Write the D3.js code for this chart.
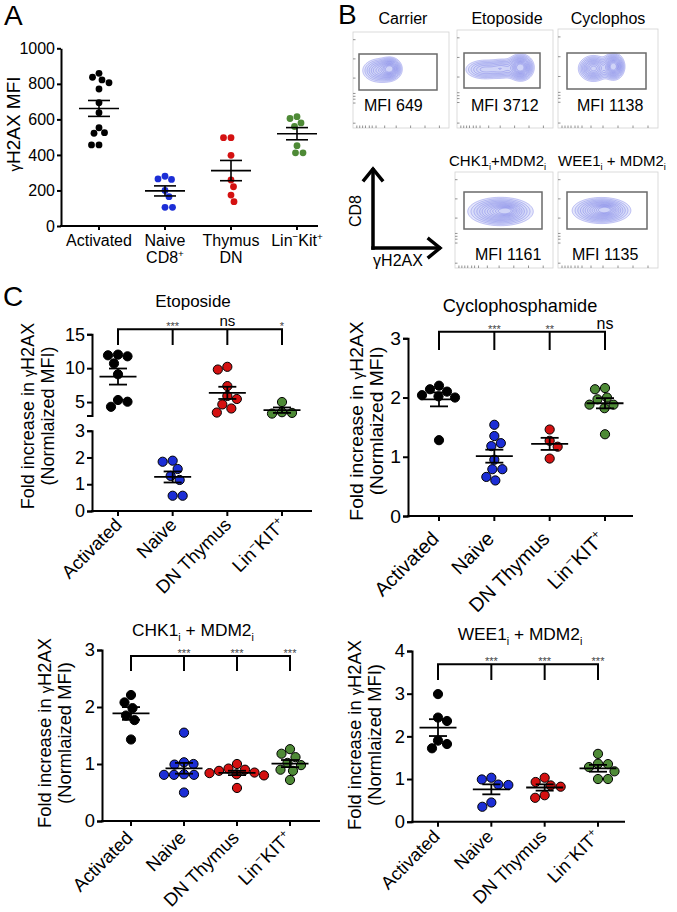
<!DOCTYPE html>
<html><head><meta charset="utf-8">
<script src="https://cdn.jsdelivr.net/npm/d3@7"></script>
<style>
html,body{margin:0;padding:0;background:#fff;}
svg text{font-family:"Liberation Sans",Arial,Helvetica,sans-serif;fill:#000;}
</style></head>
<body>
<svg id="fig" width="677" height="912"></svg>
<script>
// ================= DATA =================
// Panel A
const groupsA = ["Activated", "Naive CD8+", "Thymus DN", "Lin-Kit+"];
const labelsA1 = ["Activated", "Naive", "Thymus", "Lin^−^Kit^+^"];
const labelsA2 = ["", "CD8^+^", "DN", ""];
const ticksA = [0, 200, 400, 600, 800, 1000];
const activatedA = [859, 837, 822, 806, 771, 694, 638, 553, 525, 522, 456, 456];
const naiveA = [280, 265, 262, 200, 165, 105, 105];
const thymusA = [497, 497, 398, 259, 221, 174, 137];
const linKitA = [615, 605, 580, 560, 452, 412, 412];

// Panel B
const flowTitles = ["Carrier", "Etoposide", "Cyclophos", "CHK1_i_+MDM2_i_", "WEE1_i_ + MDM2_i_"];
const flowMFI = [649, 3712, 1138, 1161, 1135];

// Panel C
const groupsC = ["Activated", "Naive", "DN Thymus", "Lin-KIT+"];
const labelsC = ["Activated", "Naive", "DN Thymus", "Lin^−^KIT^+^"];
const titlesC = ["Etoposide", "Cyclophosphamide", "CHK1_i_ + MDM2_i_", "WEE1_i_ + MDM2_i_"];

const etoActivated = [12.0, 11.9, 11.75, 10.7, 9.1, 5.3, 5.05, 4.3];
const etoNaive = [1.88, 1.84, 1.57, 1.31, 1.16, 0.57, 0.57];
const etoDN = [10.2, 9.8, 7.35, 5.9, 5.45, 4.65, 4.05, 3.45];
const etoLin = [5.0, 3.5, 3.4, 3.3];
const etoSig = ["***", "ns", "*"];
const etoTicksUpper = [5, 10, 15];
const etoTicksLower = [0, 1, 2, 3];

const cycActivated = [2.20, 2.14, 2.10, 2.04, 2.02, 2.0, 1.28];
const cycNaive = [1.54, 1.35, 1.23, 1.18, 0.95, 0.79, 0.79, 0.66, 0.60];
const cycDN = [1.46, 1.27, 1.17, 0.97];
const cycLin = [2.16, 2.14, 2.0, 1.97, 1.88, 1.88, 1.82, 1.38];
const cycSig = ["***", "**", "ns"];
const cycTicks = [0, 1, 2, 3];

const chkActivated = [2.21, 2.08, 1.98, 1.85, 1.77, 1.43];
const chkNaive = [1.55, 1.03, 1.0, 0.99, 0.82, 0.81, 0.81, 0.81, 0.5];
const chkDN = [1.0, 0.92, 0.9, 0.88, 0.85, 0.84, 0.82, 0.8, 0.58];
const chkLin = [1.26, 1.18, 1.12, 1.02, 0.98, 0.9, 0.88, 0.72];
const chkSig = ["***", "***", "***"];
const chkTicks = [0, 1, 2, 3];

const weeActivated = [2.99, 2.44, 2.36, 1.90, 1.82, 1.72];
const weeNaive = [1.03, 0.99, 0.87, 0.86, 0.45, 0.35];
const weeDN = [1.03, 0.93, 0.85, 0.82, 0.62, 0.56];
const weeLin = [1.59, 1.36, 1.35, 1.28, 1.18, 1.0, 1.0];
const weeSig = ["***", "***", "***"];
const weeTicks = [0, 1, 2, 3, 4];

// ================= STYLE / LAYOUT =================
const colors = ["#000000", "#1c2ed6", "#d41111", "#4e8a36"];
const svg = d3.select("#fig");
const fmt = d3.format("~g");

function rich(sel, str, fs) {
  const parts = str.split(/(\^[^\^]*\^|_[^_]*_)/).filter(s => s !== "");
  let shift = 0;
  parts.forEach(p => {
    if (p[0] === "^") {
      const s = -fs * 0.38;
      sel.append("tspan").text(p.slice(1, -1)).attr("font-size", fs * 0.62).attr("dy", s - shift);
      shift = s;
    } else if (p[0] === "_") {
      const s = fs * 0.28;
      sel.append("tspan").text(p.slice(1, -1)).attr("font-size", fs * 0.62).attr("dy", s - shift);
      shift = s;
    } else {
      sel.append("tspan").text(p).attr("dy", -shift);
      shift = 0;
    }
  });
  return sel;
}

function swarm(vals, yfn, r) {
  const pts = vals.map(v => ({ v, y: yfn(v) })).sort((a, b) => a.y - b.y);
  const placed = [];
  pts.forEach((p, i) => {
    const dir = i % 2 === 0 ? 1 : -1;
    for (let k = 0; k < 600; k++) {
      const dx = k === 0 ? 0 : Math.ceil(k / 2) * 0.5 * ((k % 2) ? dir : -dir);
      if (placed.every(q => (q.dx - dx) ** 2 + (q.y - p.y) ** 2 >= (2 * r + 0.4) ** 2)) { p.dx = dx; break; }
    }
    placed.push(p);
  });
  return placed;
}

function drawGroup(g, vals, cx, yfn, color, o) {
  const pts = swarm(vals, yfn, o.r);
  g.append("g").selectAll("circle").data(pts).join("circle")
    .attr("cx", d => cx + d.dx).attr("cy", d => d.y).attr("r", o.r)
    .attr("fill", color)
    .attr("stroke", o.stroke ? "#000" : "none").attr("stroke-width", o.stroke ? 1 : 0);
  const m = d3.mean(vals), s = d3.deviation(vals) / Math.sqrt(vals.length);
  const lg = g.append("g").attr("stroke", "#000").attr("stroke-width", o.lw);
  lg.append("line").attr("x1", cx - o.mw / 2).attr("x2", cx + o.mw / 2).attr("y1", yfn(m)).attr("y2", yfn(m));
  lg.append("line").attr("x1", cx - o.sw / 2).attr("x2", cx + o.sw / 2).attr("y1", yfn(m + s)).attr("y2", yfn(m + s));
  lg.append("line").attr("x1", cx - o.sw / 2).attr("x2", cx + o.sw / 2).attr("y1", yfn(m - s)).attr("y2", yfn(m - s));
  lg.append("line").attr("x1", cx).attr("x2", cx).attr("y1", yfn(m + s)).attr("y2", yfn(m - s));
}

function styleAxis(g, fs) {
  g.attr("font-size", fs).attr("font-family", "'Liberation Sans',Arial,sans-serif");
  g.selectAll("path,line").attr("stroke", "#000").attr("stroke-width", 2);
  g.selectAll("text").attr("fill", "#000");
}

// panel letters
svg.append("text").attr("x", 4).attr("y", 25).attr("font-size", 28).text("A");
svg.append("text").attr("x", 338).attr("y", 24).attr("font-size", 28).text("B");
svg.append("text").attr("x", 3).attr("y", 306).attr("font-size", 28).text("C");

// ================= PANEL A =================
(function () {
  const xA = d3.scalePoint().domain(groupsA).range([99, 297]);
  const yA = d3.scaleLinear().domain([0, 1000]).range([226, 48.3]);
  const g = svg.append("g");
  const ya = g.append("g").attr("transform", "translate(61,0)")
    .call(d3.axisLeft(yA).tickValues(ticksA).tickFormat(fmt).tickSize(4).tickSizeOuter(0).tickPadding(2));
  styleAxis(ya, 16);
  g.append("line").attr("x1", 60).attr("x2", 318).attr("y1", 226).attr("y2", 226).attr("stroke", "#000").attr("stroke-width", 2);
  groupsA.forEach((c, i) => {
    g.append("line").attr("x1", xA(c)).attr("x2", xA(c)).attr("y1", 226).attr("y2", 230).attr("stroke", "#000").attr("stroke-width", 2);
    rich(g.append("text").attr("x", xA(c)).attr("y", 246).attr("text-anchor", "middle").attr("font-size", 16), labelsA1[i], 16);
    if (labelsA2[i]) rich(g.append("text").attr("x", xA(c)).attr("y", 263).attr("text-anchor", "middle").attr("font-size", 16), labelsA2[i], 16);
  });
  const yl = g.append("text").attr("transform", "translate(20,124) rotate(-90)").attr("text-anchor", "middle").attr("font-size", 19);
  yl.append("tspan").text("γ").attr("font-size", 15);
  yl.append("tspan").text("H2AX MFI");
  const series = [activatedA, naiveA, thymusA, linKitA];
  series.forEach((vals, i) => drawGroup(g, vals, xA(groupsA[i]), v => yA(v), colors[i], { r: 3.4, stroke: false, mw: 40, sw: 22, lw: 1.6 }));
})();

// ================= PANEL B =================
const flowLayout = [
  { frame: [353, 32, 96, 96], gate: [359, 54, 78, 36], blobs: [[27, 38, 9, 6, 0.6], [37, 36, 5, 5, 0.9]], tx: 403, ty: 24, mx: 364, my: 111 },
  { frame: [457, 30, 96, 98], gate: [464, 53, 76, 35], blobs: [[27, 39, 10, 5, 0.4], [45, 38, 7, 5, 0.35], [63, 37, 6, 6, 1]], tx: 507, ty: 24, mx: 471, my: 111 },
  { frame: [558, 29, 100, 99], gate: [567, 53, 79, 36], blobs: [[35, 39, 7, 6, 0.75], [55, 37, 5, 6, 1]], tx: 608, ty: 24, mx: 577, my: 111 },
  { frame: [455, 172, 98, 96], gate: [464, 192, 78, 37], blobs: [[45, 39, 15, 6.5, 1], [52, 38, 6, 3, 0.4]], tx: 449, ty: 166, mx: 475, my: 260, anchor: "start" },
  { frame: [558, 172, 100, 96], gate: [567, 192, 80, 37], blobs: [[43, 38, 13.5, 6, 1], [48, 37, 6, 3, 0.4]], tx: 558, ty: 166, mx: 572, my: 260, anchor: "start" }
];
flowLayout.forEach((L, idx) => {
  const [fx, fy, fw, fh] = L.frame;
  const g = svg.append("g").attr("transform", `translate(${fx},${fy})`);
  g.append("rect").attr("width", fw).attr("height", fh).attr("fill", "none").attr("stroke", "#d2d2d2").attr("stroke-width", 0.8);
  [0.08, 0.28, 0.48, 0.64, 0.67, 0.7, 0.74, 0.95].forEach(t =>
    g.append("line").attr("x1", 0).attr("x2", 2.5).attr("y1", t * fh).attr("y2", t * fh).attr("stroke", "#777").attr("stroke-width", 0.8));
  [0.04, 0.07, 0.1, 0.13, 0.17, 0.2, 0.24, 0.33, 0.45, 0.6, 0.75, 0.9].forEach(t =>
    g.append("line").attr("x1", t * fw).attr("x2", t * fw).attr("y1", fh).attr("y2", fh - 2.5).attr("stroke", "#777").attr("stroke-width", 0.8));
  const nx = fw, ny = fh, grid = new Float64Array(nx * ny);
  for (let j = 0; j < ny; j++) for (let i = 0; i < nx; i++) {
    let s = 0;
    L.blobs.forEach(b => { s += b[4] * Math.exp(-((i - b[0]) ** 2 / (2 * b[2] ** 2) + (j - b[1]) ** 2 / (2 * b[3] ** 2))); });
    grid[j * nx + i] = s;
  }
  const mx = d3.max(grid);
  const thr = [0.07, 0.11, 0.16, 0.22, 0.29, 0.36, 0.44, 0.52, 0.6, 0.68, 0.76, 0.84].map(t => t * mx);
  const cs = d3.contours().size([nx, ny]).thresholds(thr)(grid);
  g.append("g").selectAll("path").data(cs).join("path").attr("d", d3.geoPath())
    .attr("fill", (d, i) => i === 0 ? "#e4e6fb" : (i < 4 ? "#c9cdf6" : "none")).attr("fill-opacity", (d, i) => i === 0 ? 1 : 0.35)
    .attr("stroke", "#5d62df").attr("stroke-width", 0.5).attr("stroke-opacity", 0.7);
  svg.append("rect").attr("x", L.gate[0]).attr("y", L.gate[1]).attr("width", L.gate[2]).attr("height", L.gate[3])
    .attr("fill", "none").attr("stroke", "#6a6a6a").attr("stroke-width", 1.5);
  rich(svg.append("text").attr("x", L.tx).attr("y", L.ty).attr("text-anchor", L.anchor || "middle").attr("font-size", idx < 3 ? 16 : 15), flowTitles[idx], idx < 3 ? 16 : 15);
  svg.append("text").attr("x", L.mx).attr("y", L.my).attr("font-size", 16).text("MFI " + flowMFI[idx]);
});
// axis arrows
(function () {
  const g = svg.append("g").attr("stroke", "#000").attr("stroke-width", 3.5).attr("fill", "none").attr("stroke-linecap", "square");
  g.append("path").attr("d", "M373,248 L373,170");
  g.append("path").attr("d", "M364,180 L373,169 L382,180");
  g.append("path").attr("d", "M373,248 L439,248");
  g.append("path").attr("d", "M429,239 L440,248 L429,257");
  svg.append("text").attr("transform", "translate(361,211) rotate(-90)").attr("text-anchor", "middle").attr("font-size", 16).text("CD8");
  svg.append("text").attr("x", 398).attr("y", 266).attr("text-anchor", "middle").attr("font-size", 16).text("γH2AX");
})();

// ================= PANEL C =================
const panelsC = [
  { data: [etoActivated, etoNaive, etoDN, etoLin], sig: etoSig, xr: [118, 282], ax: 92, aend: 312, ay: 511, k: 1.0, xk: 1.0, ldx: 5, ldy: 15,
    segs: [{ d: [3, 15], r: [415.6, 334.3], t: etoTicksUpper }, { d: [0, 3], r: [511, 430.7], t: etoTicksLower }],
    bt: 329.3, bd: 345, tx: 193, ty: 307, yl1: 34, yl2: 54, ylc: 416 },
  { data: [cycActivated, cycNaive, cycDN, cycLin], sig: cycSig, xr: [439, 605], ax: 408, aend: 633, ay: 516, k: 1.07, xk: 1.07, ldx: 1, ldy: 24,
    segs: [{ d: [0, 3], r: [516, 338.3], t: cycTicks }],
    bt: 331.7, bd: 350, tx: 520, ty: 312, yl1: 363, yl2: 383, ylc: 421 },
  { data: [chkActivated, chkNaive, chkDN, chkLin], sig: chkSig, xr: [131, 290], ax: 102, aend: 320, ay: 821, k: 1.02, xk: 1.0, ldx: 3, ldy: 18,
    segs: [{ d: [0, 3], r: [821, 650], t: chkTicks }],
    bt: 656, bd: 671, tx: 193, ty: 636, yl1: 51, yl2: 71, ylc: 733 },
  { data: [weeActivated, weeNaive, weeDN, weeLin], sig: weeSig, xr: [438, 598], ax: 412, aend: 625, ay: 821.7, k: 1.02, xk: 0.98, ldx: 3, ldy: 16,
    segs: [{ d: [0, 4], r: [821.7, 651], t: weeTicks }],
    bt: 664.3, bd: 680, tx: 520, ty: 640, yl1: 361, yl2: 381, ylc: 735 }
];

panelsC.forEach((P, pi) => {
  const g = svg.append("g");
  const k = P.k;
  const x = d3.scalePoint().domain(groupsC).range(P.xr);
  const scales = P.segs.map(s => d3.scaleLinear().domain(s.d).range(s.r));
  const yfn = v => { for (let j = 0; j < P.segs.length; j++) if (v >= P.segs[j].d[0] || j === P.segs.length - 1) return scales[j](v); };
  P.segs.forEach((s, j) => {
    const a = g.append("g").attr("transform", `translate(${P.ax},0)`)
      .call(d3.axisLeft(scales[j]).tickValues(s.t).tickFormat(fmt).tickSize(5).tickSizeOuter(5).tickPadding(2));
    styleAxis(a, 18 * k);
  });
  g.append("line").attr("x1", P.ax - 1).attr("x2", P.aend).attr("y1", P.ay).attr("y2", P.ay).attr("stroke", "#000").attr("stroke-width", 2);
  const xfs = 18.5 * P.xk;
  groupsC.forEach((c, i) => {
    g.append("line").attr("x1", x(c)).attr("x2", x(c)).attr("y1", P.ay).attr("y2", P.ay + 5).attr("stroke", "#000").attr("stroke-width", 2);
    rich(g.append("text").attr("transform", `translate(${x(c) + P.ldx},${P.ay + P.ldy}) rotate(-45)`).attr("text-anchor", "end").attr("font-size", xfs), labelsC[i], xfs);
  });
  // title
  rich(g.append("text").attr("x", P.tx).attr("y", P.ty).attr("text-anchor", "middle").attr("font-size", 17 * k), titlesC[pi], 17 * k);
  // y label
  const yfs = 18 * k;
  const yl = g.append("text").attr("transform", `translate(${P.yl1},${P.ylc}) rotate(-90)`).attr("text-anchor", "middle").attr("font-size", yfs);
  yl.append("tspan").text("Fold increase in ");
  yl.append("tspan").text("γ").attr("font-size", yfs * 0.8);
  yl.append("tspan").text("H2AX");
  g.append("text").attr("transform", `translate(${P.yl2},${P.ylc}) rotate(-90)`).attr("text-anchor", "middle").attr("font-size", yfs).text("(Normlaized MFI)");
  // bracket
  const bx = groupsC.map(c => x(c));
  const br = g.append("g").attr("stroke", "#000").attr("stroke-width", 2).attr("fill", "none");
  br.append("path").attr("d", `M${bx[0]},${P.bd} V${P.bt} H${bx[3]} V${P.bd}`);
  br.append("path").attr("d", `M${bx[1]},${P.bt} V${P.bd} M${bx[2]},${P.bt} V${P.bd}`);
  P.sig.forEach((s, i) => {
    const isStar = s.indexOf("*") >= 0;
    g.append("text").attr("x", bx[i + 1]).attr("y", isStar ? P.bt + 1 : P.bt - 3).attr("text-anchor", "middle")
      .attr("font-size", isStar ? 11 : 15 * k).style("fill", isStar ? "#444" : "#000").text(s);
  });
  // data
  P.data.forEach((vals, i) => drawGroup(g, vals, x(groupsC[i]), yfn, colors[i], { r: 4.6, stroke: true, mw: 37, sw: 18, lw: 1.8 }));
});
</script>
</body></html>
